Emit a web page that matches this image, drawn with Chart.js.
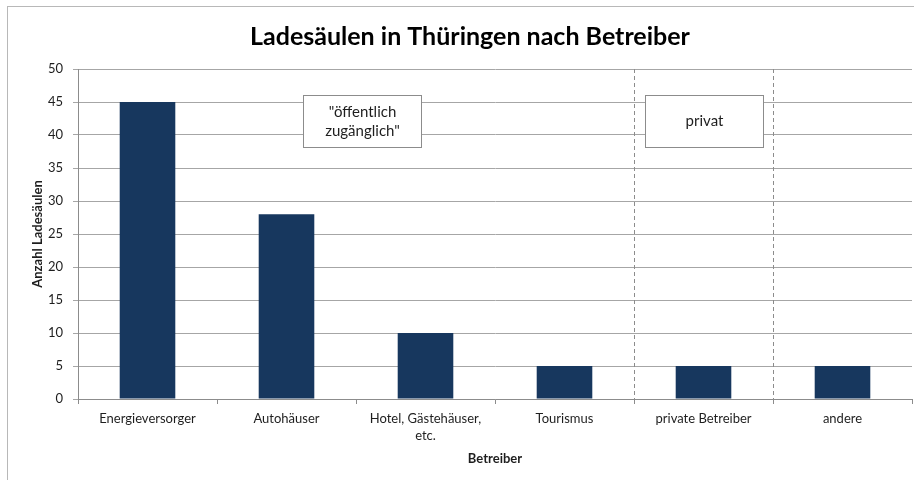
<!DOCTYPE html>
<html>
<head>
<meta charset="utf-8">
<script src="https://cdn.jsdelivr.net/npm/chart.js@4/dist/chart.umd.min.js"></script>
<style>
  html, body { margin: 0; padding: 0; background: #fff; overflow: hidden; width: 914px; height: 480px; }
  #wrap { position: absolute; left: 7px; top: 6px; width: 924px; height: 488px; border: 1px solid #b8b8b8; background: #fff; }
  canvas { display: block; }
</style>
</head>
<body>
<div id="wrap"><canvas id="c" width="924" height="488"></canvas></div>
<script>
const categories = ["Energieversorger", "Autohäuser", ["Hotel, Gästehäuser,", "etc."], "Tourismus", "private Betreiber", "andere"];
const counts = [45, 28, 10, 5, 5, 5];
const yTicks = [0, 5, 10, 15, 20, 25, 30, 35, 40, 45, 50];
const groupLabels = [["\"öffentlich", "zugänglich\""], ["privat"]];
const groupDividers = [3.5, 4.5];

const FONT = "Lato, 'Open Sans', sans-serif";
const TXT = "#1e1e1e";

const groupPlugin = {
  id: 'groupPlugin',
  beforeDatasetsDraw(chart, args, opts) {
    const {ctx, chartArea, scales} = chart;
    ctx.save();
    ctx.strokeStyle = '#8c8c8c';
    ctx.lineWidth = 1;
    ctx.setLineDash([4, 3]);
    groupDividers.forEach(v => {
      const x = Math.round(scales.x.getPixelForValue(v)) + 0.5;
      ctx.beginPath();
      ctx.moveTo(x, chartArea.top);
      ctx.lineTo(x, chartArea.bottom);
      ctx.stroke();
    });
    ctx.restore();
  },
  afterDatasetsDraw(chart, args, opts) {
    const {ctx, scales} = chart;
    ctx.save();
    opts.boxes.forEach((b, i) => {
      const x1 = Math.round(scales.x.getPixelForValue(b.x0)) + 0.5;
      const x2 = Math.round(scales.x.getPixelForValue(b.x1)) + 0.5;
      const y1 = Math.round(scales.y.getPixelForValue(b.y1)) + 0.5;
      const y2 = Math.round(scales.y.getPixelForValue(b.y0)) + 0.5;
      ctx.fillStyle = '#ffffff';
      ctx.fillRect(x1, y1, x2 - x1, y2 - y1);
      ctx.strokeStyle = '#8c8c8c';
      ctx.lineWidth = 1;
      ctx.setLineDash([]);
      ctx.strokeRect(x1, y1, x2 - x1, y2 - y1);
      const lines = groupLabels[i];
      ctx.fillStyle = TXT;
      ctx.font = "15px " + FONT;
      ctx.textAlign = 'center';
      ctx.textBaseline = 'middle';
      const lh = 19;
      const cx = (x1 + x2) / 2, cy = (y1 + y2) / 2;
      lines.forEach((t, k) => {
        ctx.fillText(t, cx, cy + (k - (lines.length - 1) / 2) * lh);
      });
    });
    ctx.restore();
  }
};

new Chart(document.getElementById('c'), {
  type: 'bar',
  data: {
    labels: categories,
    datasets: [{
      data: counts,
      backgroundColor: '#17375e',
      borderWidth: 0,
      barPercentage: 0.4,
      categoryPercentage: 1.0
    }]
  },
  options: {
    responsive: false,
    animation: false,
    layout: { padding: { left: 20, right: 20, top: 0, bottom: 26 } },
    plugins: {
      legend: { display: false },
      tooltip: { enabled: false },
      title: {
        display: true,
        text: 'Ladesäulen in Thüringen nach Betreiber',
        color: '#000',
        font: { family: FONT, size: 25, weight: 'bold', lineHeight: 1.2 },
        padding: { top: 15, bottom: 17 }
      },
      groupPlugin: {
        boxes: [
          { x0: 1.12, x1: 1.97, y0: 38.2, y1: 46.0 },
          { x0: 3.58, x1: 4.43, y0: 38.2, y1: 46.1 }
        ]
      }
    },
    scales: {
      x: {
        grid: { display: true, drawOnChartArea: false, drawTicks: true, tickLength: 5, color: '#8c8c8c', offset: true },
        border: { display: true, color: '#8c8c8c' },
        ticks: { color: TXT, font: { family: FONT, size: 13, lineHeight: 1.3 }, padding: 6, maxRotation: 0, autoSkip: false },
        title: { display: true, text: 'Betreiber', color: TXT, font: { family: FONT, size: 13, weight: 'bold', lineHeight: 1.2 }, padding: { top: 0, bottom: 2.2 } },
        afterFit(s) { s.height = 70; }
      },
      y: {
        min: 0, max: 50,
        afterBuildTicks(s) { s.ticks = yTicks.map(v => ({ value: v })); },
        grid: { color: '#a6a6a6', tickLength: 5, drawTicks: true },
        border: { display: true, color: '#8c8c8c' },
        ticks: { color: TXT, font: { family: FONT, size: 13 }, padding: 10 },
        title: { display: true, text: 'Anzahl Ladesäulen', color: TXT, font: { family: FONT, size: 13, weight: 'bold', lineHeight: 1.2 }, padding: { top: 2.2, bottom: 0 } },
        afterFit(s) { s.width = 50; }
      }
    }
  },
  plugins: [groupPlugin]
});
</script>
</body>
</html>
